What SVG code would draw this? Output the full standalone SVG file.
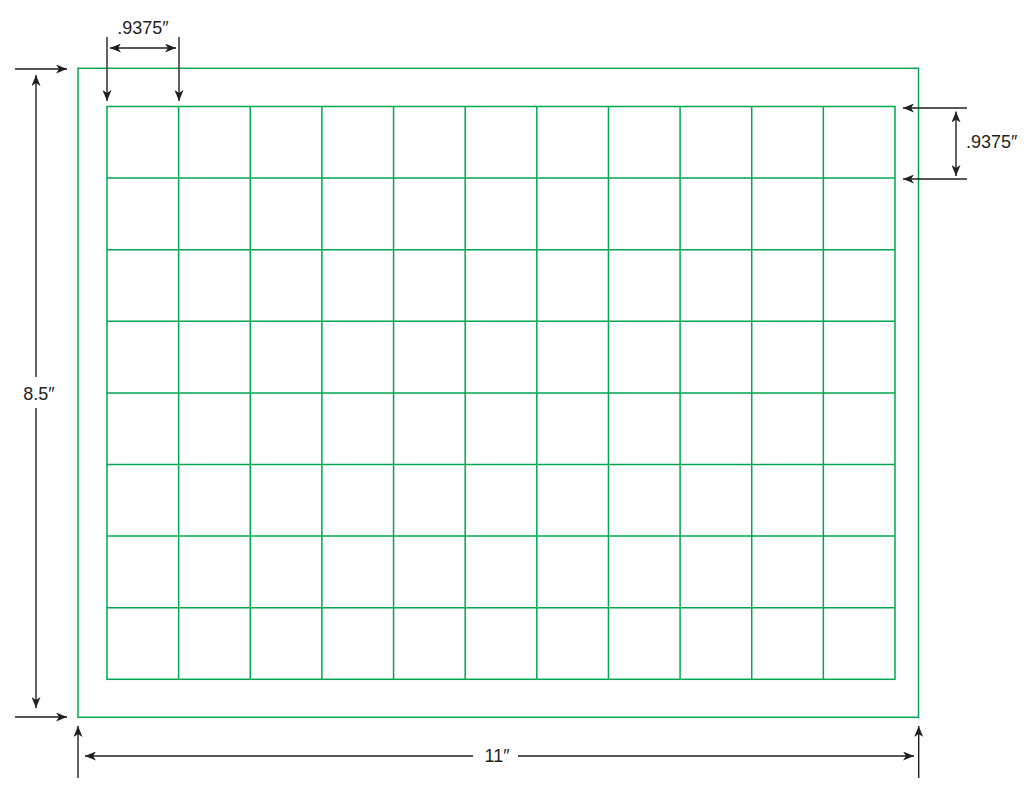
<svg xmlns="http://www.w3.org/2000/svg" width="1030" height="796" viewBox="0 0 1030 796">
<defs>
<marker id="ah" viewBox="0 0 11 9" markerWidth="11" markerHeight="9" refX="11" refY="4.5" orient="auto-start-reverse" markerUnits="userSpaceOnUse">
<path d="M0,0 L11,4.5 L0,9 L3,4.5 Z" fill="#231f20"/>
</marker>
</defs>
<style>
.g{fill:none;stroke:#00a651;stroke-width:1.5}
.d{fill:none;stroke:#231f20;stroke-width:1.4}
.a{marker-end:url(#ah)}
.b{marker-start:url(#ah);marker-end:url(#ah)}
text{font-family:"Liberation Sans","Open Sans",sans-serif;font-size:18px;fill:#231f20}
</style>
<rect width="1030" height="796" fill="#fff"/>
<g id="sheet">
<rect class="g" x="78" y="68.3" width="840.5" height="649"/>
</g>
<g id="grid">
<rect class="g" x="107" y="106.5" width="788" height="572.8"/>
<path class="g" d="M178.64,106.5V679.3M250.27,106.5V679.3M321.91,106.5V679.3M393.55,106.5V679.3M465.18,106.5V679.3M536.82,106.5V679.3M608.45,106.5V679.3M680.09,106.5V679.3M751.73,106.5V679.3M823.36,106.5V679.3M107,178.1H895M107,249.7H895M107,321.3H895M107,392.9H895M107,464.5H895M107,536.1H895M107,607.7H895"/>
</g>
<g id="connectors">
<line class="d a" x1="107" y1="37" x2="107" y2="101"/>
<line class="d a" x1="179" y1="37" x2="179" y2="101"/>
<line class="d b" x1="110" y1="48" x2="176" y2="48"/>
<line class="d a" x1="15" y1="69" x2="67" y2="69"/>
<line class="d a" x1="15" y1="717" x2="67" y2="717"/>
<line class="d a" x1="36" y1="377" x2="36" y2="75"/>
<line class="d a" x1="36" y1="408" x2="36" y2="708"/>
<line class="d a" x1="78" y1="778" x2="78" y2="726"/>
<line class="d a" x1="918.7" y1="778" x2="918.7" y2="726"/>
<line class="d a" x1="473" y1="756" x2="85" y2="756"/>
<line class="d a" x1="518" y1="756" x2="914" y2="756"/>
<line class="d a" x1="967" y1="108" x2="903" y2="108"/>
<line class="d a" x1="967" y1="179" x2="903" y2="179"/>
<line class="d b" x1="956" y1="111.5" x2="956" y2="176"/>
</g>
<g id="labels">
<text x="143" y="34" text-anchor="middle">.9375″</text>
<text x="966" y="148">.9375″</text>
<text x="39" y="400" text-anchor="middle">8.5″</text>
<text x="497" y="762" text-anchor="middle">11″</text>
</g>
</svg>
